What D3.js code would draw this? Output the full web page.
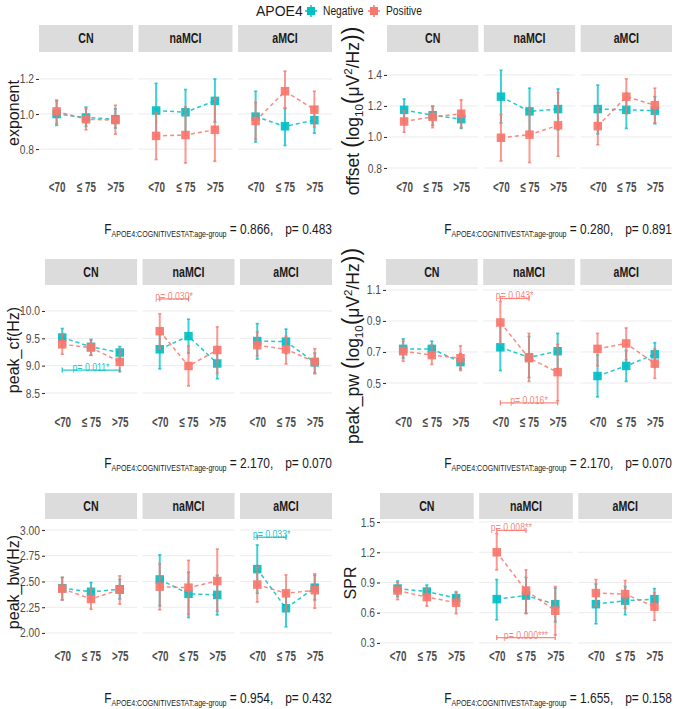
<!DOCTYPE html>
<html><head><meta charset="utf-8">
<script src="https://cdnjs.cloudflare.com/ajax/libs/d3/7.8.5/d3.min.js"></script>
<style>body{margin:0;background:#fff}</style>
</head><body><svg id="c" width="676" height="709"></svg>
<script>
// ---------- data ----------
const statuses = ["CN", "naMCI", "aMCI"];
const ageGroups = ["<70", "≤ 75", ">75"];
const apoeLevels = ["Negative", "Positive"];

// each row: [mean, lower, upper], order CN(<70,≤75,>75), naMCI(...), aMCI(...)
const exponentNeg = [[1.00,0.935,1.075],[0.98,0.93,1.04],[0.97,0.92,1.03],
  [1.02,0.87,1.175],[1.01,0.88,1.14],[1.075,0.955,1.20],
  [0.985,0.84,1.13],[0.93,0.82,1.035],[0.965,0.89,1.04]];
const exponentPos = [[1.015,0.945,1.08],[0.97,0.91,1.03],[0.965,0.885,1.05],
  [0.875,0.74,1.01],[0.88,0.72,1.04],[0.91,0.73,1.09],
  [0.96,0.855,1.065],[1.13,1.03,1.245],[1.025,0.925,1.13]];

const offsetNeg = [[1.175,1.105,1.245],[1.14,1.075,1.20],[1.115,1.055,1.165],
  [1.26,1.09,1.43],[1.165,1.03,1.315],[1.18,1.045,1.31],
  [1.18,1.02,1.335],[1.175,1.055,1.28],[1.17,1.085,1.26]];
const offsetPos = [[1.10,1.03,1.17],[1.13,1.06,1.195],[1.15,1.06,1.24],
  [0.995,0.845,1.145],[1.015,0.835,1.19],[1.075,0.875,1.285],
  [1.07,0.95,1.19],[1.26,1.15,1.375],[1.205,1.09,1.315]];

const peakCfNeg = [[9.515,9.35,9.68],[9.345,9.19,9.48],[9.24,9.12,9.35],
  [9.30,8.94,9.67],[9.54,9.23,9.85],[9.04,8.76,9.35],
  [9.45,9.12,9.77],[9.44,9.22,9.67],[9.06,8.87,9.23]];
const peakCfPos = [[9.39,9.21,9.58],[9.33,9.19,9.46],[9.07,8.89,9.30],
  [9.63,9.31,9.95],[8.995,8.63,9.36],[9.285,8.86,9.71],
  [9.375,9.18,9.62],[9.30,9.03,9.54],[9.07,8.85,9.31]];

const peakPwNeg = [[0.72,0.66,0.785],[0.72,0.665,0.77],[0.635,0.59,0.69],
  [0.73,0.58,0.88],[0.665,0.535,0.80],[0.705,0.59,0.82],
  [0.545,0.41,0.68],[0.61,0.51,0.71],[0.685,0.60,0.76]];
const peakPwPos = [[0.705,0.64,0.77],[0.68,0.62,0.745],[0.66,0.58,0.74],
  [0.89,0.755,1.025],[0.66,0.51,0.82],[0.57,0.385,0.75],
  [0.72,0.61,0.82],[0.755,0.65,0.855],[0.625,0.53,0.72]];

const peakBwNeg = [[2.435,2.32,2.54],[2.40,2.31,2.49],[2.425,2.33,2.52],
  [2.52,2.265,2.76],[2.38,2.15,2.59],[2.37,2.175,2.56],
  [2.62,2.385,2.855],[2.24,2.06,2.40],[2.44,2.32,2.56]];
const peakBwPos = [[2.43,2.32,2.54],[2.33,2.23,2.43],[2.42,2.28,2.555],
  [2.45,2.225,2.67],[2.44,2.18,2.705],[2.505,2.21,2.815],
  [2.47,2.30,2.64],[2.385,2.21,2.565],[2.415,2.24,2.575]];

const sprNeg = [[0.84,0.76,0.915],[0.81,0.745,0.875],[0.745,0.69,0.80],
  [0.735,0.53,0.93],[0.77,0.595,0.95],[0.685,0.51,0.845],
  [0.685,0.49,0.885],[0.72,0.58,0.86],[0.735,0.63,0.84]];
const sprPos = [[0.82,0.73,0.905],[0.755,0.665,0.84],[0.70,0.59,0.81],
  [1.20,1.025,1.385],[0.82,0.59,1.025],[0.62,0.38,0.86],
  [0.795,0.665,0.93],[0.785,0.645,0.92],[0.66,0.525,0.80]];

const yTicksExponent = [0.8, 1.0, 1.2];
const yTicksOffset = [0.8, 1.0, 1.2, 1.4];
const yTicksPeakCf = [8.5, 9.0, 9.5, 10.0];
const yTicksPeakPw = [0.5, 0.7, 0.9, 1.1];
const yTicksPeakBw = [2.00, 2.25, 2.50, 2.75, 3.00];
const yTicksSpr = [0.3, 0.6, 0.9, 1.2, 1.5];

const fValues = ["0.866", "0.280", "2.170", "2.170", "0.954", "1.655"];
const pValues = ["0.483", "0.891", "0.070", "0.070", "0.432", "0.158"];

const bracketSeries = ["Negative", "Positive", "Positive", "Positive", "Negative", "Positive", "Positive"];
const bracketMeasure = ["peak_cf", "peak_cf", "peak_pw", "peak_pw", "peak_bw", "SPR", "SPR"];
const bracketStatus = ["CN", "naMCI", "naMCI", "naMCI", "aMCI", "naMCI", "naMCI"];
const bracketFrom = ["<70", "<70", "<70", "<70", "<70", "<70", "<70"];
const bracketTo = [">75", "≤ 75", "≤ 75", ">75", "≤ 75", "≤ 75", ">75"];
const bracketY = [8.92, 10.22, 1.045, 0.372, 2.93, 1.417, 0.353];
const bracketLabel = ["p= 0.011*", "p= 0.030*", "p= 0.043*", "p= 0.016*", "p= 0.033*", "p= 0.008**", "p= 0.000***"];

// ---------- styling / layout ----------
const colors = {Negative: "#00BFC4", Positive: "#F8766D"};
const sans = "'Liberation Sans',Arial,sans-serif";
const gap = 5.5;

function squeeze(sel, sx) {
  sel.each(function () {
    const t = d3.select(this);
    const x = +t.attr("x") || 0, y = +t.attr("y") || 0;
    t.attr("x", 0).attr("y", 0).attr("transform", `translate(${x},${y}) scale(${sx},1)`);
  });
}

const charts = [
  {measure:"exponent", neg:exponentNeg, pos:exponentPos, ticks:yTicksExponent, fmt:".1f",
   left:39, right:332, sTop:25, sBot:52, bot:179, domain:[0.629,1.354], tx:13, ty:113, fy:229,
   title:["exponent"]},
  {measure:"offset", neg:offsetNeg, pos:offsetPos, ticks:yTicksOffset, fmt:".1f",
   left:387, right:672, sTop:25, sBot:52, bot:179, domain:[0.729,1.548], tx:353, ty:111, fy:229,
   title:["offset", "log"]},
  {measure:"peak_cf", neg:peakCfNeg, pos:peakCfPos, ticks:yTicksPeakCf, fmt:".1f",
   left:45, right:332, sTop:259, sBot:285, bot:414, domain:[8.116,10.475], tx:13, ty:350, fy:463,
   title:["peak_cf(Hz)"]},
  {measure:"peak_pw", neg:peakPwNeg, pos:peakPwPos, ticks:yTicksPeakPw, fmt:".1f",
   left:386, right:672, sTop:259, sBot:285, bot:414, domain:[0.30,1.132], tx:353, ty:346, fy:463,
   title:["peak_pw", "log"]},
  {measure:"peak_bw", neg:peakBwNeg, pos:peakBwPos, ticks:yTicksPeakBw, fmt:".2f",
   left:45, right:332, sTop:493, sBot:519, bot:648, domain:[1.854,3.107], tx:13, ty:582, fy:698,
   title:["peak_bw(Hz)"]},
  {measure:"SPR", neg:sprNeg, pos:sprPos, ticks:yTicksSpr, fmt:".1f",
   left:380, right:672, sTop:493, sBot:519, bot:648, domain:[0.25,1.53], tx:350, ty:583, fy:698,
   title:["SPR"]}
];

const svg = d3.select("#c");
svg.append("rect").attr("width",676).attr("height",709).attr("fill","#fff");

charts.forEach((cfg, ci) => {
  const g = svg.append("g");
  const y = d3.scaleLinear().domain(cfg.domain).range([cfg.bot, cfg.sBot]);
  const pw = (cfg.right - cfg.left - 2*gap) / 3;
  const seriesData = {Negative: cfg.neg, Positive: cfg.pos};

  // y axis
  const ya = g.append("g").attr("transform", `translate(${cfg.left},0)`)
    .call(d3.axisLeft(y).tickValues(cfg.ticks).tickFormat(d3.format(cfg.fmt)).tickSize(3).tickPadding(2));
  ya.select(".domain").remove();
  ya.selectAll("line").attr("stroke","#333").attr("stroke-width",1.1);
  ya.selectAll("text").attr("fill","#4d4d4d").style("font-family", sans).style("font-size","12.5px");
  squeeze(ya.selectAll("text"), 0.82);

  // title
  const t = g.append("text").attr("transform", `translate(${cfg.tx},${cfg.ty}) rotate(-90)`)
    .attr("text-anchor","middle").attr("dy","0.35em")
    .style("font-family", sans).style("font-size", cfg.title.length === 1 ? "16px" : "17.5px").attr("fill","#1a1a1a");
  if (cfg.title.length === 1) {
    t.text(cfg.title[0]);
  } else {
    const big = "23px", small = "11.5px";
    t.append("tspan").text(cfg.title[0] + " ");
    t.append("tspan").style("font-size", big).text("(");
    t.append("tspan").text("log");
    t.append("tspan").attr("dy", 4).style("font-size", small).text("10");
    t.append("tspan").attr("dy", -4).style("font-size", big).text("(");
    t.append("tspan").text("μV");
    t.append("tspan").attr("dy", -7).style("font-size", small).text("2");
    t.append("tspan").attr("dy", 7).text("/Hz");
    t.append("tspan").style("font-size", big).text("))");
  }

  statuses.forEach((st, si) => {
    const px0 = cfg.left + si * (pw + gap);
    const x = d3.scalePoint().domain(ageGroups).range([px0, px0 + pw]).padding(0.6);
    const pg = g.append("g");
    // strip
    pg.append("rect").attr("x", px0).attr("y", cfg.sTop).attr("width", pw).attr("height", cfg.sBot - cfg.sTop)
      .attr("fill", "#dcdcdc");
    const stx = pg.append("text").attr("x", px0 + pw/2).attr("y", (cfg.sTop + cfg.sBot)/2).attr("dy","0.35em")
      .attr("text-anchor","middle").style("font-family", sans).style("font-weight","bold")
      .style("font-size","14px").attr("fill","#1a1a1a").text(st);
    squeeze(stx, 0.76);
    // grid
    pg.selectAll(".grid").data(cfg.ticks).join("line")
      .attr("x1", px0).attr("x2", px0 + pw).attr("y1", d => y(d)).attr("y2", d => y(d))
      .attr("stroke", "#ebebeb").attr("stroke-width", 1);
    // x axis
    const xa = pg.append("g").attr("transform", `translate(0,${cfg.bot})`)
      .call(d3.axisBottom(x).tickSize(0).tickPadding(3));
    xa.select(".domain").remove();
    xa.selectAll("text").attr("fill","#4d4d4d").style("font-family", sans)
      .style("font-weight","bold").style("font-size","14.5px");
    squeeze(xa.selectAll("text"), 0.68);

    // series
    apoeLevels.forEach(lv => {
      const rows = seriesData[lv].slice(si*3, si*3 + 3).map((r, k) => ({age: ageGroups[k], m: r[0], lo: r[1], hi: r[2]}));
      const col = colors[lv];
      const eg = pg.append("g").attr("stroke", col).attr("stroke-opacity", 0.75);
      eg.selectAll(".eb").data(rows).join("line")
        .attr("x1", d => x(d.age)).attr("x2", d => x(d.age))
        .attr("y1", d => y(d.lo)).attr("y2", d => y(d.hi)).attr("stroke-width", 2);
      eg.selectAll(".cl").data(rows).join("line")
        .attr("x1", d => x(d.age) - 1.6).attr("x2", d => x(d.age) + 1.6)
        .attr("y1", d => y(d.lo)).attr("y2", d => y(d.lo)).attr("stroke-width", 1.6);
      eg.selectAll(".ch").data(rows).join("line")
        .attr("x1", d => x(d.age) - 1.6).attr("x2", d => x(d.age) + 1.6)
        .attr("y1", d => y(d.hi)).attr("y2", d => y(d.hi)).attr("stroke-width", 1.6);
      pg.append("path").datum(rows)
        .attr("d", d3.line().x(d => x(d.age)).y(d => y(d.m)))
        .attr("fill","none").attr("stroke", col).attr("stroke-width", 1.5)
        .attr("stroke-dasharray", "4,3").attr("stroke-opacity", 0.85);
      pg.selectAll(null).data(rows).join("rect")
        .attr("x", d => x(d.age) - 4.25).attr("y", d => y(d.m) - 4.25)
        .attr("width", 8.5).attr("height", 8.5).attr("fill", col).attr("fill-opacity", 0.92);
    });

    // brackets
    bracketMeasure.forEach((m, bi) => {
      if (m !== cfg.measure || bracketStatus[bi] !== st) return;
      const col = colors[bracketSeries[bi]];
      const xa1 = x(bracketFrom[bi]), xa2 = x(bracketTo[bi]), yy = y(bracketY[bi]);
      const bg = pg.append("g").attr("stroke", col).attr("stroke-opacity", 0.85).attr("stroke-width", 1.3);
      bg.append("line").attr("x1", xa1).attr("x2", xa2).attr("y1", yy).attr("y2", yy);
      bg.append("line").attr("x1", xa1).attr("x2", xa1).attr("y1", yy - 2.5).attr("y2", yy + 2.5);
      bg.append("line").attr("x1", xa2).attr("x2", xa2).attr("y1", yy - 2.5).attr("y2", yy + 2.5);
      const bt = pg.append("text").attr("x", (xa1 + xa2)/2).attr("y", yy + 1).attr("text-anchor","middle")
        .style("font-family", sans).style("font-size","11.5px").attr("fill", col).attr("fill-opacity", 0.9)
        .text(bracketLabel[bi]);
      squeeze(bt, 0.76);
    });
  });

  // F annotation
  const ft = g.append("text").attr("x", cfg.right).attr("y", cfg.fy).attr("dy","0.35em")
    .attr("text-anchor","end").style("font-family", sans).style("font-size","15.5px").attr("fill","#1a1a1a");
  ft.append("tspan").text("F");
  ft.append("tspan").attr("dy", 3).style("font-size","9.2px").text("APOE4:COGNITIVESTAT:age-group");
  ft.append("tspan").attr("dy", -3).text(` = ${fValues[ci]},\u2002\u2002p= ${pValues[ci]}`);
  squeeze(ft, 0.77);
});

// legend
const lg = svg.append("g");
lg.append("text").attr("x", 256).attr("y", 11).attr("dy","0.35em")
  .style("font-family", sans).style("font-size","14px").attr("fill","#1a1a1a").text("APOE4");
const legendX = d3.scaleOrdinal().domain(apoeLevels).range([311, 374]);
apoeLevels.forEach(lv => {
  const cx = legendX(lv), col = colors[lv];
  lg.append("line").attr("x1", cx - 6).attr("x2", cx + 6).attr("y1", 11).attr("y2", 11)
    .attr("stroke", col).attr("stroke-width", 1.5);
  lg.append("line").attr("x1", cx).attr("x2", cx).attr("y1", 5).attr("y2", 17)
    .attr("stroke", col).attr("stroke-width", 1.5);
  lg.append("rect").attr("x", cx - 4).attr("y", 7).attr("width", 8).attr("height", 8).attr("fill", col);
  const lt = lg.append("text").attr("x", cx + 12).attr("y", 11).attr("dy","0.35em")
    .style("font-family", sans).style("font-size","12.5px").attr("fill","#1a1a1a").text(lv);
  squeeze(lt, 0.82);
});
</script></body></html>
